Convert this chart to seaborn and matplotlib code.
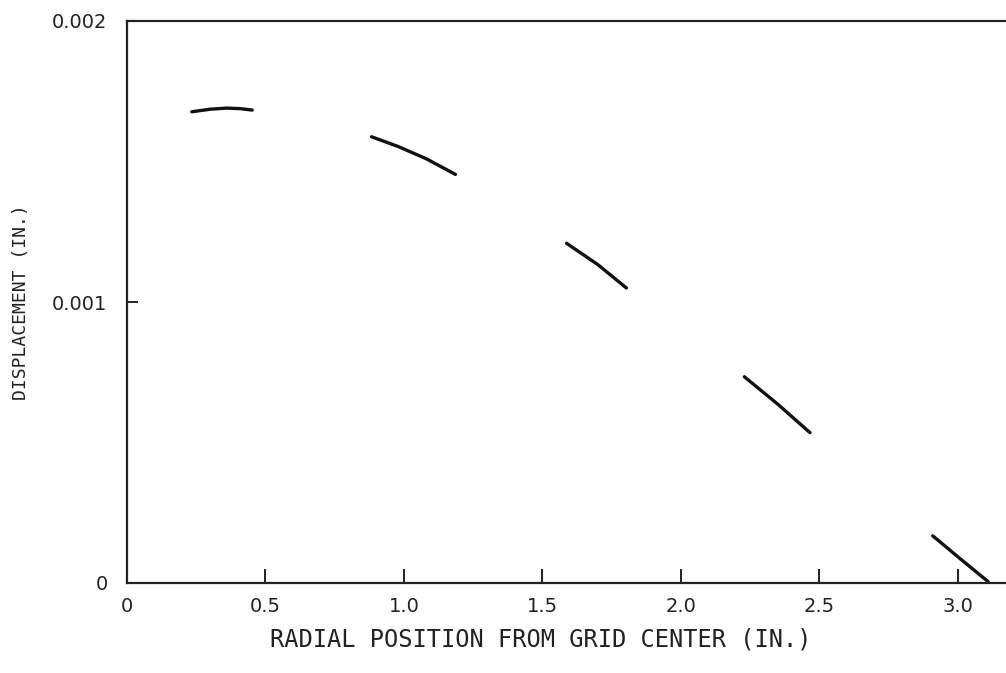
import matplotlib
matplotlib.use("Agg")
import matplotlib.pyplot as plt
import seaborn as sns
import pandas as pd

# Data
seg_ids = [1]*5 + [2]*4 + [3]*3 + [4]*3 + [5]*3
radial = [0.234, 0.30, 0.36, 0.41, 0.452,
          0.883, 0.98, 1.08, 1.186,
          1.587, 1.70, 1.803,
          2.229, 2.35, 2.466,
          2.909, 3.01, 3.109]
displacement = [0.001677, 0.001686, 0.001690, 0.001688, 0.001683,
                0.001588, 0.001553, 0.001510, 0.001454,
                0.001209, 0.001133, 0.001050,
                0.000734, 0.000636, 0.000535,
                0.000168, 0.000085, 0.000005]
x_ticks = [0, 0.5, 1.0, 1.5, 2.0, 2.5, 3.0]
x_tick_labels = ["0", "0.5", "1.0", "1.5", "2.0", "2.5", "3.0"]
y_ticks = [0, 0.001, 0.002]
y_tick_labels = ["0", "0.001", "0.002"]

df = pd.DataFrame({"seg": seg_ids, "x": radial, "y": displacement})

sns.set_style("white")
plt.rcParams['font.family'] = ['DejaVu Sans']

fig = plt.figure(figsize=(10.06, 6.73), dpi=100)
ax = fig.add_axes([127/1006, 90/673, 1 - 127/1006 + 0.01, (583-21)/673])

sns.lineplot(data=df, x="x", y="y", units="seg", estimator=None, sort=False,
             color="#111111", linewidth=2.4, ax=ax, legend=False)

ax.set_xlim(0, 3.21)
ax.set_ylim(0, 0.002)
ax.set_xticks(x_ticks)
ax.set_xticklabels(x_tick_labels, fontsize=14, color="#222222")
ax.set_yticks(y_ticks)
ax.set_yticklabels(y_tick_labels, fontsize=14, color="#222222")
ax.tick_params(axis="x", bottom=True, direction="in", length=10, width=1.4,
               pad=10, color="#222222")
ax.tick_params(axis="y", left=True, direction="in", length=8, width=1.4,
               pad=14, color="#222222")

for side in ["left", "bottom", "top"]:
    ax.spines[side].set_visible(True)
    ax.spines[side].set_linewidth(1.6)
    ax.spines[side].set_color("#222222")
ax.spines["right"].set_visible(False)

ax.set_xlabel("RADIAL POSITION FROM GRID CENTER (IN.)", fontsize=17,
              family="DejaVu Sans Mono", color="#222222")
ax.set_ylabel("DISPLACEMENT (IN.)", fontsize=13, family="DejaVu Sans Mono",
              color="#222222")
ax.xaxis.set_label_coords(414/889, -44/562)
ax.yaxis.set_label_coords(-97/889, 0.5)

fig.savefig("out.png", dpi=100, facecolor="white")
